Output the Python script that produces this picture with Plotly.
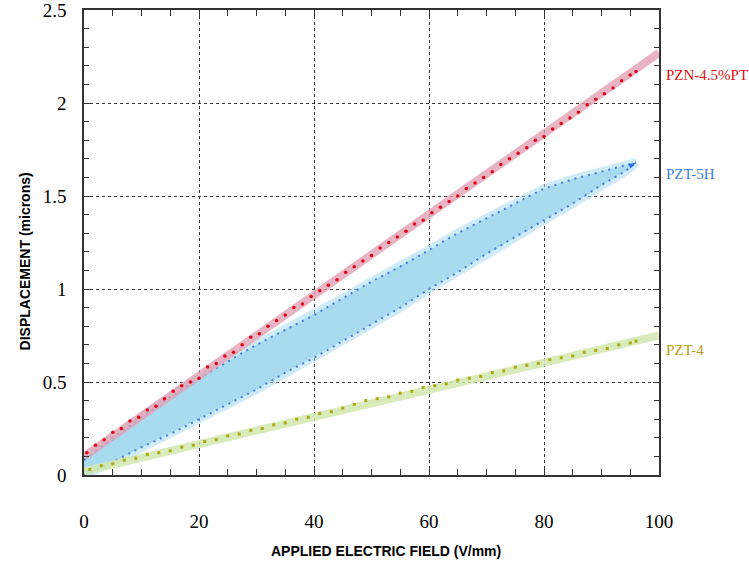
import plotly.graph_objects as go

# ---------------- data ----------------
red_x = [0.5, 2, 3.5, 5, 6.5, 8, 9.5, 11, 12.5, 14, 15.5, 17, 18.5, 20, 21.5, 23, 24.5, 26,
         27.5, 29, 30.5, 32, 33.5, 35, 36.5, 38, 39.5, 41, 42.5, 44, 45.5, 47, 48.5, 50, 51.5,
         53, 54.5, 56, 57.5, 59, 60.5, 62, 63.5, 65, 66.5, 68, 69.5, 71, 72.5, 74, 75.5, 77,
         78.5, 80, 81.5, 83, 84.5, 86, 87.5, 89, 90.5, 92, 93.5, 95, 96]
red_y = [0.12, 0.16, 0.19, 0.23, 0.25, 0.29, 0.31, 0.35, 0.37, 0.41, 0.45, 0.48, 0.50, 0.52,
         0.58, 0.60, 0.64, 0.66, 0.70, 0.74, 0.76, 0.80, 0.83, 0.86, 0.90, 0.92, 0.96, 0.99,
         1.02, 1.05, 1.09, 1.12, 1.15, 1.18, 1.22, 1.25, 1.28, 1.31, 1.35, 1.37, 1.41, 1.44,
         1.47, 1.50, 1.54, 1.57, 1.60, 1.63, 1.67, 1.70, 1.73, 1.76, 1.80, 1.82, 1.86, 1.89,
         1.92, 1.95, 1.99, 2.02, 2.05, 2.08, 2.12, 2.15, 2.17]
red_fit_x = [0, 100]
red_fit_y = [0.10, 2.27]

pzt5h_up_x = [0, 5, 10, 15, 20, 25, 30, 35, 40, 45, 50, 55, 60, 65, 70, 75, 80, 85, 90, 94, 96]
pzt5h_up_y = [0.08, 0.20, 0.31, 0.42, 0.52, 0.61, 0.70, 0.78, 0.86, 0.95, 1.04, 1.12, 1.21,
              1.30, 1.38, 1.46, 1.54, 1.59, 1.63, 1.66, 1.68]
pzt5h_dn_x = [0, 5, 10, 15, 20, 25, 30, 35, 40, 45, 50, 55, 60, 65, 70, 75, 80, 85, 90, 94, 96]
pzt5h_dn_y = [0.00, 0.07, 0.15, 0.22, 0.30, 0.38, 0.46, 0.55, 0.63, 0.72, 0.81, 0.90, 1.00,
              1.09, 1.19, 1.28, 1.37, 1.46, 1.56, 1.63, 1.68]

pzt4_x = [1, 3, 5, 7, 9, 11, 13, 15, 17, 19, 21, 23, 25, 27, 29, 31, 33, 35, 37, 39, 41, 43,
          45, 47, 49, 51, 53, 55, 57, 59, 61, 63, 65, 67, 69, 71, 73, 75, 77, 79, 81, 83, 85,
          87, 89, 91, 93, 95, 96]
pzt4_y = [0.03, 0.05, 0.06, 0.08, 0.09, 0.11, 0.12, 0.13, 0.15, 0.16, 0.18, 0.19, 0.21, 0.22,
          0.24, 0.25, 0.27, 0.28, 0.30, 0.31, 0.33, 0.34, 0.36, 0.38, 0.40, 0.41, 0.42, 0.44,
          0.45, 0.47, 0.48, 0.49, 0.51, 0.52, 0.53, 0.55, 0.56, 0.58, 0.59, 0.60, 0.62, 0.63,
          0.64, 0.66, 0.67, 0.68, 0.70, 0.71, 0.72]
pzt4_fit_x = [0, 100]
pzt4_fit_y = [0.02, 0.75]

x_ticks = [0, 20, 40, 60, 80, 100]
y_ticks = [0, 0.5, 1, 1.5, 2, 2.5]
y_tick_text = ["0", "0.5", "1", "1.5", "2", "2.5"]

series_labels = ["PZN-4.5%PT", "PZT-5H", "PZT-4"]
label_y = [2.15, 1.62, 0.67]
label_colors = ["#e01010", "#3a80e0", "#b8a012"]

# ---------------- figure ----------------
fig = go.Figure()

# PZT-5H hysteresis band
fig.add_trace(go.Scatter(
    x=pzt5h_up_x + pzt5h_dn_x[::-1], y=pzt5h_up_y + pzt5h_dn_y[::-1],
    fill="toself", fillcolor="rgb(168,218,240)", mode="lines",
    line=dict(color="rgba(168,218,240,0.55)", width=9), hoverinfo="skip"))
fig.add_trace(go.Scatter(x=pzt5h_up_x, y=pzt5h_up_y, mode="lines",
                         line=dict(color="rgb(70,125,220)", width=2, dash="2px,5px")))
fig.add_trace(go.Scatter(x=pzt5h_dn_x, y=pzt5h_dn_y, mode="lines",
                         line=dict(color="rgb(70,125,220)", width=2, dash="2px,5px")))
fig.add_trace(go.Scatter(x=[pzt5h_up_x[-1]], y=[pzt5h_up_y[-1]], mode="markers",
                         marker=dict(symbol="arrow", angle=60, size=8, color="rgb(40,110,230)")))

# PZN-4.5%PT
fig.add_trace(go.Scatter(x=red_fit_x, y=red_fit_y, mode="lines",
                         line=dict(color="rgba(226,160,180,0.8)", width=8)))
fig.add_trace(go.Scatter(x=red_x, y=red_y, mode="markers",
                         marker=dict(color="#e00818", size=3.5)))

# PZT-4
fig.add_trace(go.Scatter(x=pzt4_fit_x, y=pzt4_fit_y, mode="lines",
                         line=dict(color="rgba(210,232,175,0.85)", width=8)))
fig.add_trace(go.Scatter(x=pzt4_x, y=pzt4_y, mode="markers",
                         marker=dict(color="#a8aa10", size=3, symbol="square")))

for txt, yy, col in zip(series_labels, label_y, label_colors):
    fig.add_annotation(x=1.008, xref="paper", y=yy, yref="y", text=txt, showarrow=False,
                       xanchor="left", yanchor="middle",
                       font=dict(family="Liberation Serif", size=15, color=col))

fig.add_annotation(x=0.525, xref="paper", y=-0.163, yref="paper",
                   text="<b>APPLIED ELECTRIC FIELD (V/mm)</b>", showarrow=False,
                   xanchor="center", yanchor="middle",
                   font=dict(family="Liberation Sans", size=14, color="black"))
fig.add_annotation(x=-0.102, xref="paper", y=0.46, yref="paper",
                   text="<b>DISPLACEMENT (microns)</b>", showarrow=False, textangle=-90,
                   xanchor="center", yanchor="middle",
                   font=dict(family="Liberation Sans", size=14, color="black"))

axis_common = dict(showline=True, linecolor="#333", linewidth=1.5, mirror="ticks",
                   ticks="inside", ticklen=6, tickcolor="#333", zeroline=False,
                   showgrid=True, gridcolor="#333", gridwidth=1, griddash="3px,3px",
                   automargin=False, ticklabeloverflow="allow",
                   tickfont=dict(family="Liberation Serif", size=19, color="black"))

fig.update_xaxes(range=[0, 100], tickvals=x_ticks, ticklabelstandoff=28,
                 minor=dict(dtick=5, ticks="inside", ticklen=6, tickcolor="#333", showgrid=False),
                 **axis_common)
fig.update_yaxes(range=[0, 2.5], tickvals=y_ticks, ticktext=y_tick_text, ticklabelstandoff=12,
                 minor=dict(dtick=0.1, ticks="inside", ticklen=5, tickcolor="#333", showgrid=False),
                 **axis_common)

fig.update_layout(width=749, height=563, showlegend=False,
                  margin=dict(l=84, r=90, t=10, b=88, autoexpand=False),
                  plot_bgcolor="white", paper_bgcolor="white")

fig.write_html("out.html", config={"displayModeBar": False},
               post_script="document.body.style.margin='0';document.body.style.overflow='hidden';")
